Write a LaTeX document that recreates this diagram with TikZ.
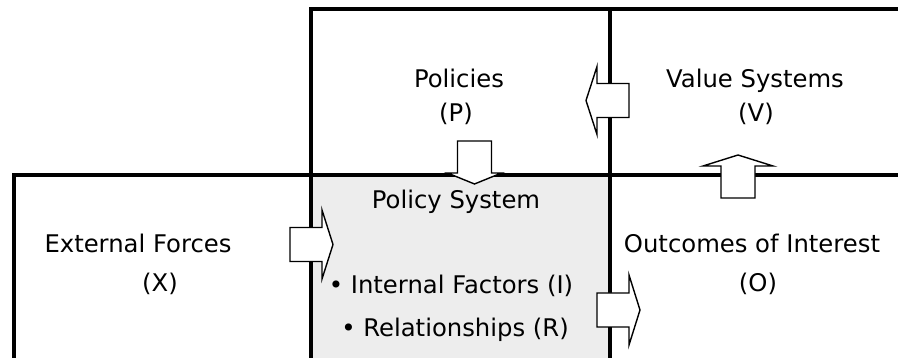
\documentclass[tikz,border=0pt]{standalone}
\usepackage{fontspec}
\setmainfont{DejaVu Sans}
\definecolor{sysgray}{RGB}{237,237,237}
\begin{document}
\begin{tikzpicture}[x=1pt,y=-1pt,
  frame/.style={line width=4pt, line join=miter, line cap=rect},
  txt/.style={font=\fontsize{24.3}{29}\selectfont, anchor=base, inner sep=0pt},
  arrowline/.style={draw=black, fill=white, line width=1.4pt, line join=miter},
  % block arrow pointing along local +x; argument = half width of the head
  blockarrow/.pic={\draw[arrowline] (0,-17) -- (32,-17) -- (32,-#1) -- (43,0)
                    -- (32,#1) -- (32,17) -- (0,17) -- cycle;},
]
\useasboundingbox (0,0) rectangle (898,358);

% shaded policy system cell
\fill[sysgray] (310.5,175) rectangle (610,358);

% grid of cells
\draw[frame] (898,9) -- (310.5,9) -- (310.5,358);
\draw[frame] (13.5,358) -- (13.5,175) -- (898,175);
\draw[frame] (610,9) -- (610,358);

% cell labels
\node[txt] (P)  at (459,88)    {Policies};
\node[txt] (Pk) at (456,122)   {(P)};
\node[txt] (V)  at (755,87.5)  {Value Systems};
\node[txt] (Vk) at (756,122)   {(V)};
\node[txt] (X)  at (138,252.5) {External Forces};
\node[txt] (Xk) at (160,292)   {(X)};
\node[txt] (O)  at (752,252.5) {Outcomes of Interest};
\node[txt] (Ok) at (758,291.5) {(O)};
\node[txt] (S)  at (456,209)   {Policy System};
\node[txt] (I)  at (451,294)   {• Internal Factors (I)};
\node[txt] (R)  at (455,336.5) {• Relationships (R)};

% flows between cells
\pic (xs) at (290,244.5) {blockarrow=34.5};
\pic (so) at (597,310) {blockarrow=35};
\pic[rotate=180] (vp) at (629,100.5) {blockarrow=34};
\pic[rotate=-90] (ps) at (474.5,141) {blockarrow=27};
\pic[rotate=90] (ov) at (738,198) {blockarrow=35};
\end{tikzpicture}
\end{document}
